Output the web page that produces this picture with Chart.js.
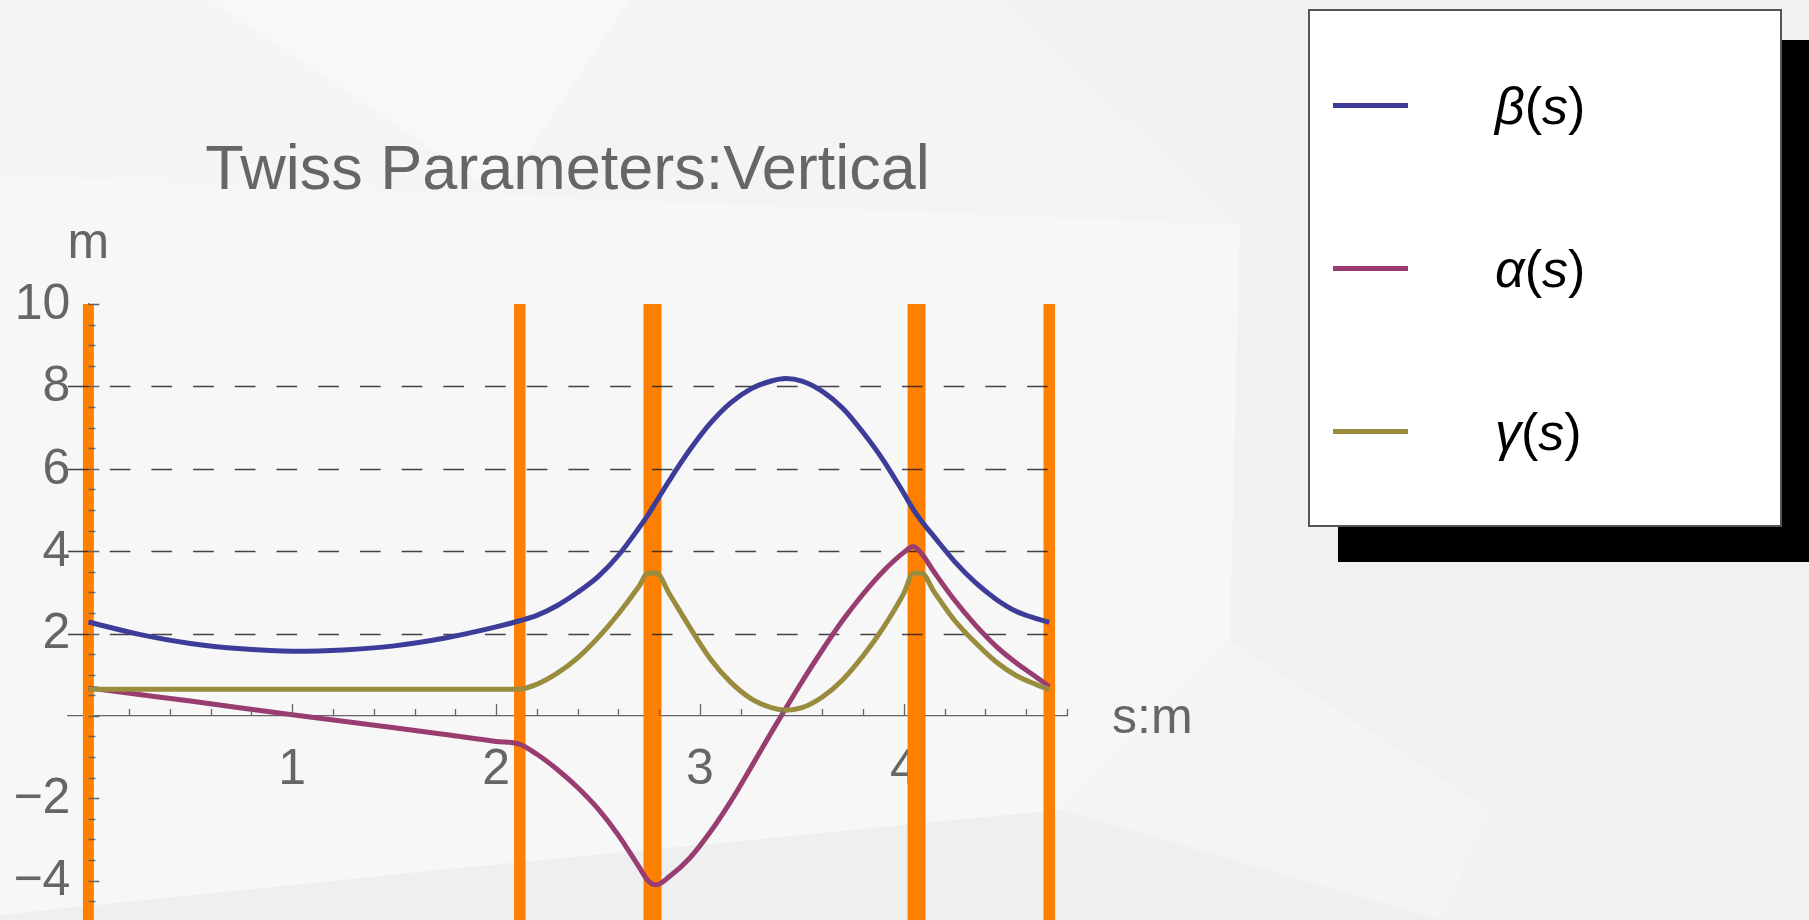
<!DOCTYPE html>
<html>
<head>
<meta charset="utf-8">
<title>Twiss Parameters:Vertical</title>
<script src="https://cdn.jsdelivr.net/npm/chart.js@4.4.1/dist/chart.umd.min.js"></script>
<style>
  html, body { margin: 0; padding: 0; overflow: hidden; background: #f2f2f3; }
  #wrap { position: relative; width: 1809px; height: 920px; font-family: "Liberation Sans", Arial, sans-serif; }
  #bg, #twiss { position: absolute; left: 0; top: 0; }
  #legendShadow { position: absolute; left: 1338px; top: 40px; width: 480px; height: 522px; background: #000; }
  #legend { position: absolute; left: 1308px; top: 9px; width: 470px; height: 514px; background: #fff; border: 2px solid #555; }
  .key { position: absolute; left: 23px; width: 75px; height: 5px; }
  .name { position: absolute; left: 185px; font-size: 52px; line-height: 52px; color: #000; white-space: nowrap; }
</style>
</head>
<body>
<div id="wrap">
  <svg id="bg" width="1809" height="920">
    <rect width="1809" height="920" fill="#f2f2f3"/>
    <polygon points="0,0 210,0 500,195 0,176" fill="#f5f5f6"/>
    <polygon points="210,0 630,0 500,195" fill="#f8f8f9"/>
    <polygon points="630,0 1000,0 1240,225 500,195" fill="#f4f4f5"/>
    <polygon points="0,176 500,195 1240,225 1230,640 1060,810 440,870 0,915" fill="#f7f7f8"/>
    <polygon points="1240,225 1809,40 1809,700 1490,810 1230,640" fill="#f1f1f2"/>
    <polygon points="1230,640 1490,810 1440,920 1060,810" fill="#f4f4f5"/>
    <polygon points="0,915 440,870 1060,810 1440,920 0,920" fill="#efeff0"/>
  </svg>
  <canvas id="twiss" width="1809" height="920"></canvas>
  <div id="legendShadow"></div>
  <div id="legend"></div>
</div>
<script>
// s positions along the lattice (m) and the three Twiss functions
const sPos = [0, 0.25, 0.5, 0.75, 1.0, 1.25, 1.5, 1.75, 2.0, 2.116,
              2.2, 2.3, 2.4, 2.5, 2.6, 2.7, 2.745, 2.785, 2.85, 2.95,
              3.05, 3.15, 3.25, 3.35, 3.42, 3.5, 3.6, 3.7, 3.8, 3.9,
              4.0, 4.045, 4.085, 4.15, 4.25, 4.35, 4.45, 4.55, 4.65, 4.713];
const beta = [2.28, 1.98, 1.76, 1.63, 1.57, 1.60, 1.70, 1.89, 2.16, 2.31,
              2.44, 2.68, 3.00, 3.38, 3.90, 4.56, 4.88, 5.20, 5.72, 6.46,
              7.10, 7.60, 7.94, 8.13, 8.19, 8.13, 7.88, 7.47, 6.88, 6.20,
              5.40, 5.02, 4.74, 4.34, 3.74, 3.24, 2.84, 2.54, 2.36, 2.27];
const alpha = [0.68, 0.52, 0.36, 0.19, 0.03, -0.13, -0.29, -0.45, -0.62, -0.69,
               -0.93, -1.30, -1.74, -2.26, -2.90, -3.66, -4.00, -4.10, -3.90, -3.45,
               -2.82, -2.08, -1.25, -0.40, 0.18, 0.83, 1.60, 2.32, 2.96, 3.52,
               3.97, 4.11, 3.95, 3.48, 2.80, 2.21, 1.70, 1.29, 0.94, 0.71];
const gamma = [0.65, 0.65, 0.65, 0.65, 0.65, 0.65, 0.65, 0.65, 0.65, 0.65,
               0.77, 1.04, 1.41, 1.90, 2.48, 3.14, 3.47, 3.47, 2.96, 2.15,
               1.39, 0.82, 0.42, 0.20, 0.14, 0.20, 0.46, 0.88, 1.46, 2.15,
               2.98, 3.46, 3.47, 3.00, 2.31, 1.78, 1.32, 0.98, 0.76, 0.64];

// lattice element positions (orange markers)
const elementS = [0, 2.116, 2.767, 4.062, 4.713];

const xTickLabels = [1, 2, 3, 4];
const yTickLabels = [-4, -2, 2, 4, 6, 8, 10];
const gridValues = [2, 4, 6, 8];
const seriesSymbols = ['β', 'α', 'γ'];

const seriesColors = ['#3d3d99', '#993d71', '#998c3d'];
const elementWidths = [11, 11.5, 18, 18, 11.5];
const fontFamily = '"Liberation Sans", Arial, sans-serif';
const textGray = '#666';

Chart.defaults.font.family = fontFamily;

function toPoints(values) {
    return sPos.map((s, i) => ({ x: s, y: values[i] }));
}

function minusSign(v) {
    return v < 0 ? '\u2212' + Math.abs(v) : String(v);
}

function zeroPad(scale) {
    scale.paddingLeft = 0;
    scale.paddingRight = 0;
    scale.paddingTop = 0;
    scale.paddingBottom = 0;
}

let datasets = [];
[beta, alpha, gamma].forEach((vals, i) => {
    datasets.push({
        label: seriesSymbols[i] + '(s)',
        data: toPoints(vals),
        borderColor: seriesColors[i],
        borderWidth: 5,
        borderJoinStyle: 'round',
        pointRadius: 0,
        cubicInterpolationMode: 'monotone',
        fill: false,
        order: 3 - i
    });
});
elementS.forEach((s, i) => {
    datasets.push({
        label: 'element ' + (i + 1),
        data: [{ x: s, y: -5 }, { x: s, y: 10 }],
        borderColor: '#ff8000',
        borderWidth: elementWidths[i],
        borderCapStyle: 'butt',
        pointRadius: 0,
        fill: false,
        order: 10
    });
});

// dashed grid sits above the orange markers but under the curves
const dashedGrid = {
    id: 'dashedGrid',
    beforeDatasetDraw(chart, args) {
        if (args.index !== 0) return;
        const { ctx, scales: { x, y } } = chart;
        const x0 = x.getPixelForValue(x.min);
        const x1 = x.getPixelForValue(elementS[elementS.length - 1]);
        ctx.save();
        ctx.strokeStyle = 'rgba(35,35,35,0.85)';
        ctx.lineWidth = 1.4;
        ctx.setLineDash([20.7, 21]);
        gridValues.forEach(v => {
            const py = Math.round(y.getPixelForValue(v)) + 0.5;
            ctx.beginPath();
            ctx.moveTo(x0, py);
            ctx.lineTo(x1, py);
            ctx.stroke();
        });
        ctx.restore();
    }
};

// inward tick marks, y labels, title and axis names
const decor = {
    id: 'decor',
    afterDraw(chart) {
        const { ctx, chartArea, scales: { x, y } } = chart;
        const ax = x.getPixelForValue(0);
        const ay = y.getPixelForValue(0);
        ctx.save();
        ctx.strokeStyle = textGray;
        ctx.lineWidth = 1.3;
        ctx.beginPath();
        for (let v = -4.5; v <= 10; v += 0.5) {
            const py = Math.round(y.getPixelForValue(v)) + 0.5;
            const len = v % 2 === 0 ? 11 : 7;
            ctx.moveTo(ax, py);
            ctx.lineTo(ax + len, py);
        }
        for (let k = 1; k <= 24; k++) {
            const px = Math.round(x.getPixelForValue(k * 0.2)) + 0.5;
            const len = k % 5 === 0 ? 12 : 7;
            ctx.moveTo(px, ay);
            ctx.lineTo(px, ay - len);
        }
        ctx.stroke();

        ctx.fillStyle = textGray;
        ctx.font = '50px ' + fontFamily;
        ctx.textAlign = 'right';
        ctx.textBaseline = 'middle';
        yTickLabels.forEach(v => {
            ctx.fillText(minusSign(v), ax - 18, y.getPixelForValue(v) + 1);
        });

        ctx.textBaseline = 'alphabetic';
        ctx.textAlign = 'center';
        ctx.fillText('m', ax, 258);
        ctx.textAlign = 'left';
        ctx.fillText('s:m', chartArea.right + 45, ay + 17);
        ctx.textAlign = 'center';
        ctx.font = '63px ' + fontFamily;
        ctx.fillText('Twiss Parameters:Vertical', (chartArea.left + chartArea.right) / 2, 189);
        ctx.restore();
    }
};

function buildLegend() {
    let box = document.getElementById('legend');
    const rows = [105, 268, 431];
    seriesSymbols.forEach((sym, i) => {
        let key = document.createElement('div');
        key.className = 'key';
        key.style.top = (rows[i] - 2.5 - 11) + 'px';
        key.style.background = seriesColors[i];
        box.appendChild(key);

        let name = document.createElement('div');
        name.className = 'name';
        name.style.top = (rows[i] - 25 - 11) + 'px';
        name.innerHTML = '<i>' + sym + '</i>(<i>s</i>)';
        box.appendChild(name);
    });
}

buildLegend();

new Chart(document.getElementById('twiss'), {
    type: 'line',
    data: { datasets: datasets },
    options: {
        responsive: false,
        animation: false,
        events: [],
        layout: { padding: { left: 68, right: 742, top: 304, bottom: 0 } },
        plugins: {
            legend: { display: false },
            title: { display: false },
            tooltip: { enabled: false }
        },
        scales: {
            x: {
                type: 'linear',
                min: -0.1,
                max: 4.8,
                position: { y: 0 },
                z: 1,
                grid: { display: false, drawTicks: false },
                border: { display: true, color: textGray, width: 1.3 },
                afterBuildTicks: (scale) => { scale.ticks = xTickLabels.map(v => ({ value: v })); },
                afterFit: zeroPad,
                ticks: {
                    color: textGray,
                    font: { size: 50 },
                    padding: 24,
                    maxRotation: 0,
                    autoSkip: false,
                    callback: minusSign
                }
            },
            y: {
                type: 'linear',
                min: -4.955,
                max: 10,
                position: { x: 0 },
                z: 1,
                grid: { display: false, drawTicks: false },
                border: { display: true, color: textGray, width: 1.3 },
                afterBuildTicks: (scale) => { scale.ticks = yTickLabels.map(v => ({ value: v })); },
                afterFit: zeroPad,
                ticks: { display: false }
            }
        }
    },
    plugins: [dashedGrid, decor]
});
</script>
</body>
</html>
